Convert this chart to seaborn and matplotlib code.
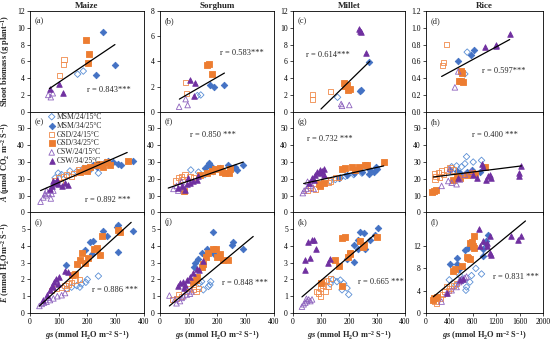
import matplotlib
matplotlib.use("Agg")
import matplotlib.pyplot as plt
import seaborn as sns
import numpy as np

sns.set_theme(style="white")
plt.rcParams['font.family'] = ['Liberation Serif', 'DejaVu Serif']
plt.rcParams['mathtext.fontset'] = 'custom'
plt.rcParams['mathtext.rm'] = 'Liberation Serif:bold'
plt.rcParams['mathtext.it'] = 'Liberation Serif:italic:bold'
plt.rcParams['mathtext.bf'] = 'Liberation Serif:bold'

# ---------------- data ----------------
crops = ['Maize', 'Sorghum', 'Millet', 'Rice']
treat_labels = {'MSM24': 'MSM/24/15°C', 'MSM34': 'MSM/34/25°C',
                'GSD24': 'GSD/24/15°C', 'GSD34': 'GSD/34/25°C',
                'CSW24': 'CSW/24/15°C', 'CSW34': 'CSW/34/25°C'}
r_texts = ['r = 0.843***', 'r = 0.583***', 'r = 0.614***', 'r = 0.597***',
           'r = 0.892 ***', 'r = 0.850 ***', 'r = 0.732 ***', 'r = 0.400 ***',
           'r = 0.886 ***', 'r = 0.848 ***', 'r = 0.665 ***', 'r = 0.831 ***']
panel_letters = ['(a)', '(b)', '(c)', '(d)', '(e)', '(f)', '(g)', '(h)', '(i)', '(j)', '(k)', '(l)']

# (a) maize shoot biomass
a_x = {'MSM24': [167, 187], 'MSM34': [255, 298, 230], 'GSD24': [119, 117, 103],
       'GSD34': [195, 207, 205], 'CSW24': [64, 73, 80], 'CSW34': [70, 102, 115]}
a_y = {'MSM24': [4.47, 4.84], 'MSM34': [9.47, 5.56, 4.43], 'GSD24': [6.25, 5.64, 4.35],
       'GSD34': [8.58, 6.89, 5.84], 'CSW24': [2.0, 1.73, 2.2], 'CSW34': [2.74, 3.26, 2.2]}
a_fit = ([68, 298], [2.75, 8.0])

# (b) sorghum shoot biomass
b_x = {'MSM24': [131, 143], 'MSM34': [175, 189, 225], 'GSD24': [90, 94],
       'GSD34': [166, 172, 184], 'CSW24': [67, 97, 90], 'CSW34': [105, 123, 120]}
b_y = {'MSM24': [1.28, 1.33], 'MSM34': [2.13, 2.0, 2.13], 'GSD24': [2.35, 1.47],
       'GSD34': [3.73, 3.81, 3.0], 'CSW24': [0.4, 0.53, 1.0], 'CSW34': [2.48, 2.29, 1.23]}
b_fit = ([68, 226], [1.0, 3.07])

# (c) millet shoot biomass
c_x = {'MSM24': [159], 'MSM34': [270, 243, 238], 'GSD24': [133, 70, 70],
       'GSD34': [183, 193, 187, 202, 198], 'CSW24': [172, 175, 201], 'CSW34': [234, 243, 238, 262]}
c_y = {'MSM24': [1.72], 'MSM34': [5.9, 2.6, 2.45], 'GSD24': [2.4, 2.04, 1.44],
       'GSD34': [3.4, 3.24, 3.1, 2.7, 2.6], 'CSW24': [0.92, 0.7, 0.8], 'CSW34': [9.8, 9.5, 9.6, 7.0]}
c_fit = ([100, 274], [0.32, 6.0])

# (d) rice shoot biomass
d_x = {'MSM24': [704, 664], 'MSM34': [818, 761, 540], 'GSD24': [352, 295, 278],
       'GSD34': [596, 619, 562, 636, 596], 'CSW24': [551, 494], 'CSW34': [1443, 1192, 1005, 1192]}
d_y = {'MSM24': [0.71, 0.45], 'MSM34': [0.74, 0.68, 0.60], 'GSD24': [0.80, 0.59, 0.55],
       'GSD34': [0.48, 0.46, 0.37, 0.35, 0.36], 'CSW24': [0.48, 0.29], 'CSW34': [0.92, 0.80, 0.77, 0.78]}
d_fit = ([267, 1431], [0.42, 0.86])

# (e) maize A
e_x = {'MSM24': [99, 111, 140, 164, 211, 240, 129, 88, 187],
       'MSM34': [205, 234, 263, 275, 310, 318, 360, 292, 222],
       'GSD24': [88, 99, 117, 129, 152, 170, 187, 146, 105],
       'GSD34': [175, 193, 211, 234, 246, 269, 281, 345, 257, 199],
       'CSW24': [37, 47, 56, 64, 73, 76, 53, 82, 58],
       'CSW34': [76, 88, 94, 99, 111, 134, 123, 82, 70]}
e_y = {'MSM24': [23.4, 22.5, 24.7, 24.3, 25.3, 23.4, 21.5, 20.6, 26.2],
       'MSM34': [25.3, 27.2, 30, 30.9, 29, 28.1, 30.6, 30, 28.1],
       'GSD24': [18.7, 20.6, 21.5, 22.5, 23.4, 25.3, 25.3, 21.5, 17.7],
       'GSD34': [24.3, 26.2, 27.2, 28.1, 29.1, 30, 28.5, 30.4, 27.2, 24.7],
       'CSW24': [6.4, 8.9, 10.2, 11.5, 8.3, 11, 11, 13, 13],
       'CSW34': [15.8, 17.7, 19.6, 16.8, 15.8, 16.4, 17.7, 18.7, 14]}
e_fit = ([37, 341], [13.0, 35.7])

# (f) sorghum A
f_x = {'MSM24': [108, 135, 158, 187, 164],
       'MSM34': [158, 170, 173, 181, 211, 257, 269, 263, 292, 240],
       'GSD24': [53, 64, 76, 88, 105, 117, 80],
       'GSD34': [84, 140, 164, 181, 193, 211, 216, 228, 243, 246],
       'CSW24': [47, 58, 70, 82, 64, 76],
       'CSW34': [64, 76, 94, 105, 117, 129, 135, 88, 99]}
f_y = {'MSM24': [25.3, 24, 22.5, 24.3, 25.8],
       'MSM34': [26.6, 28.1, 29.6, 27.2, 26.2, 26.2, 25.3, 27.2, 28.1, 28.1],
       'GSD24': [18.7, 20.6, 21.5, 22.5, 21.5, 20.6, 19.6],
       'GSD34': [13, 22.5, 23.4, 24.7, 25.8, 26.2, 24.3, 23.4, 23.4, 25.8],
       'CSW24': [14, 15.8, 16.8, 14.9, 13, 18.3],
       'CSW34': [14.5, 15.8, 16.8, 17.7, 18.7, 19.6, 21.5, 13.4, 20.6]}
f_fit = ([29, 292], [14.5, 30.0])

# (g) millet A
g_x = {'MSM24': [133, 151, 169, 187, 217, 246],
       'MSM34': [163, 193, 217, 246, 270, 288, 300, 298, 276],
       'GSD24': [52, 62, 80, 98, 127, 133, 151, 163, 115],
       'GSD34': [92, 98, 110, 175, 187, 211, 235, 258, 264, 324, 223],
       'CSW24': [35, 40, 48, 56, 64, 74, 52],
       'CSW34': [56, 68, 80, 86, 95, 104, 112, 98, 110, 74]}
g_y = {'MSM24': [18.7, 19.6, 20.6, 21.5, 22.5, 23.4],
       'MSM34': [20.6, 22.5, 23.4, 24.3, 22.8, 24, 25.8, 27.2, 25.3],
       'GSD24': [13, 14.9, 14, 15.8, 17.7, 18.7, 20.6, 20.6, 19.6],
       'GSD34': [16.8, 15.8, 17.7, 25.8, 26.2, 27.2, 27.2, 28.5, 28.5, 30, 25.3],
       'CSW24': [11.5, 13, 14, 15.8, 17.2, 14, 18.3],
       'CSW34': [17.7, 20.6, 22.5, 24.3, 25.3, 24.7, 25.8, 23.4, 22.5, 19.6]}
g_fit = ([38, 324], [17.2, 27.7])

# (h) rice A
h_x = {'MSM24': [438, 523, 665, 693, 807, 949, 608],
       'MSM34': [409, 523, 580, 693, 778, 807, 920, 568],
       'GSD24': [142, 170, 210, 267, 295, 352, 409, 466, 153, 227],
       'GSD34': [108, 136, 170, 466, 523, 693, 778, 835, 1006, 580],
       'CSW24': [267, 381, 438, 523, 580, 665, 778, 409],
       'CSW34': [551, 807, 864, 949, 966, 1023, 1091, 1119, 1063, 1591, 1591, 1631]}
h_y = {'MSM24': [27.2, 27.7, 29, 33.2, 30, 31, 27.2],
       'MSM34': [25.3, 24.7, 23.4, 24.3, 25.3, 23.4, 24.3, 21.5],
       'GSD24': [23.4, 21.5, 24, 24.7, 22.5, 25.3, 26.6, 25.3, 19.6, 20.6],
       'GSD34': [12, 13, 13.6, 19.6, 21.5, 22.5, 23.4, 22.8, 27.2, 20.6],
       'CSW24': [15.8, 18.7, 17.7, 16.8, 19.6, 22.5, 24.3, 25.8],
       'CSW34': [20.6, 22.5, 20.6, 29, 27.2, 19.6, 22.5, 20.6, 21.5, 23.4, 21.5, 27.7]}
h_fit = ([125, 1631], [21.1, 27.7])

# (i) maize E
i_x = {'MSM24': [129, 146, 164, 181, 196, 201, 240, 175],
       'MSM34': [126, 193, 211, 222, 216, 257, 269, 304, 310, 310, 360],
       'GSD24': [76, 94, 111, 123, 135, 146, 158, 175, 129],
       'GSD34': [146, 158, 175, 181, 193, 205, 225, 234, 246, 251, 310, 316, 164],
       'CSW24': [33, 41, 49, 58, 70, 82, 96, 111, 123, 64],
       'CSW34': [44, 58, 70, 76, 84, 91, 103, 123, 135, 99, 82]}
i_y = {'MSM24': [1.44, 1.54, 1.63, 1.73, 1.83, 2.0, 2.2, 1.54],
       'MSM34': [2.85, 3.75, 4.23, 4.27, 3.5, 4.9, 4.6, 5.1, 5.23, 3.65, 4.9],
       'GSD24': [1.35, 1.44, 1.54, 1.63, 1.73, 1.83, 1.92, 2.0, 1.44],
       'GSD34': [2.25, 2.3, 3.17, 3.6, 2.98, 3.3, 3.8, 3.88, 3.46, 4.6, 4.96, 4.85, 2.9],
       'CSW24': [0.42, 0.54, 0.62, 0.67, 0.77, 0.87, 1.0, 1.06, 1.19, 0.92],
       'CSW34': [0.77, 1.06, 1.35, 1.63, 1.83, 2.0, 2.15, 2.5, 2.46, 1.73, 1.54]}
i_fit = ([33, 355], [0.42, 5.4])

# (j) sorghum E
j_x = {'MSM24': [138, 146, 175, 178, 170, 152],
       'MSM34': [119, 135, 146, 164, 181, 187, 189, 251, 255, 290, 123],
       'GSD24': [44, 58, 76, 94, 103, 117, 126, 135, 64],
       'GSD34': [117, 126, 131, 146, 152, 161, 170, 185, 196, 201, 211, 222, 240],
       'CSW24': [33, 58, 70, 76, 82, 94, 105, 111, 53],
       'CSW34': [64, 70, 80, 88, 94, 105, 117, 131, 138, 150, 84]}
j_y = {'MSM24': [1.77, 1.87, 1.67, 1.87, 1.58, 1.38],
       'MSM34': [2.73, 3.21, 3.6, 3.79, 3.69, 4.85, 3.54, 4.04, 4.23, 3.79, 2.96],
       'GSD24': [0.81, 0.85, 1.0, 1.29, 1.48, 1.38, 1.29, 1.48, 1.1],
       'GSD34': [1.87, 1.96, 2.12, 2.77, 2.92, 3.35, 3.6, 3.79, 3.79, 3.31, 3.5, 3.15, 3.15],
       'CSW24': [1.04, 0.58, 0.71, 0.9, 1.0, 1.1, 1.15, 1.29, 0.81],
       'CSW34': [1.58, 1.77, 1.87, 1.67, 1.96, 2.15, 2.38, 2.63, 2.54, 3.12, 1.48]}
j_fit = ([33, 327], [0.42, 4.56])

# (k) millet E
k_x = {'MSM24': [133, 143, 157, 169, 181, 193, 199, 175],
       'MSM34': [193, 217, 231, 240, 252, 258, 276, 294, 302, 231, 217],
       'GSD24': [86, 92, 98, 104, 110, 119, 127, 133, 98, 115],
       'GSD34': [100, 151, 175, 187, 163, 175, 202, 205, 240, 255, 250, 300, 195],
       'CSW24': [32, 38, 44, 50, 56, 62, 68, 48],
       'CSW34': [52, 68, 76, 83, 42, 62, 44, 124, 133]}
k_y = {'MSM24': [1.73, 2.0, 1.87, 1.96, 1.77, 1.48, 1.1, 1.38],
       'MSM34': [3.21, 4.08, 3.79, 4.85, 4.75, 3.79, 4.37, 4.65, 5.08, 4.37, 3.02],
       'GSD24': [1.29, 1.19, 1.48, 1.67, 1.87, 1.96, 1.58, 2.06, 1.0, 1.29],
       'GSD34': [1.81, 3.15, 4.46, 4.5, 2.83, 1.58, 3.5, 3.6, 4.27, 4.08, 3.92, 4.5, 3.35],
       'CSW24': [0.38, 0.52, 0.62, 0.71, 0.81, 0.71, 0.81, 0.85],
       'CSW34': [4.23, 4.37, 4.37, 3.79, 3.15, 3.27, 2.58, 2.96, 3.21]}
k_fit = ([32, 290], [0.96, 4.65])

# (l) rice E
l_x = {'MSM24': [398, 511, 580, 636, 682, 693, 778, 852, 949, 750],
       'MSM34': [409, 523, 534, 568, 665, 722, 977, 977, 1006, 1023, 1063],
       'GSD24': [153, 182, 239, 284, 324, 381, 409, 466, 523, 352],
       'GSD34': [125, 142, 182, 466, 494, 608, 693, 722, 750, 750, 778, 807, 818, 818],
       'CSW24': [267, 352, 438, 523, 568, 608, 665, 693, 580],
       'CSW34': [364, 580, 636, 909, 1045, 1045, 1091, 1102, 1119, 920, 1460, 1574, 1631, 977]}
l_y = {'MSM24': [5.93, 4.94, 6.69, 5.82, 4.07, 4.65, 6.69, 7.97, 6.98, 5.53],
       'MSM34': [8.84, 9.89, 8.73, 7.85, 11.3, 11.6, 11.5, 10.2, 12.5, 12.8, 14.0],
       'GSD24': [2.04, 1.75, 2.62, 3.37, 3.78, 4.07, 4.36, 4.94, 5.24, 4.77],
       'GSD34': [2.33, 2.62, 2.79, 7.56, 7.85, 8.44, 10.0, 9.89, 9.6, 12.5, 12.7, 11.9, 11.6, 13.8],
       'CSW24': [2.04, 3.49, 4.07, 4.65, 5.53, 6.11, 6.28, 6.52, 5.94],
       'CSW34': [3.49, 5.82, 6.11, 15.0, 12.5, 11.9, 13.7, 10.8, 10.4, 11.9, 13.7, 13.1, 13.7, 12.8]}
l_fit = ([125, 1700], [2.9, 16.45])

panels_x = [a_x, b_x, c_x, d_x, e_x, f_x, g_x, h_x, i_x, j_x, k_x, l_x]
panels_y = [a_y, b_y, c_y, d_y, e_y, f_y, g_y, h_y, i_y, j_y, k_y, l_y]
panels_fit = [a_fit, b_fit, c_fit, d_fit, e_fit, f_fit, g_fit, h_fit, i_fit, j_fit, k_fit, l_fit]

# ---------------- styles / layout ----------------
BLUE, ORANGE, PURPLE = '#4472C4', '#ED7D31', '#7030A0'
styles = {
    'MSM24': dict(marker='D', fc='none', ec='#5B8FD5', s=11),
    'MSM34': dict(marker='D', fc=BLUE, ec=BLUE, s=11),
    'GSD24': dict(marker='s', fc='none', ec='#F08A4B', s=14),
    'GSD34': dict(marker='s', fc=ORANGE, ec=ORANGE, s=14),
    'CSW24': dict(marker='^', fc='none', ec='#8E63BE', s=16),
    'CSW34': dict(marker='^', fc=PURPLE, ec=PURPLE, s=16),
}
W, H = 550, 341
col_left = [30, 160, 293, 426]
col_w = [114, 114, 112, 117]
row_top = [11, 111.7, 212.3]
row_h = 100.7
r_pos = [(0.50, 0.22), (0.53, 0.58), (0.12, 0.56), (0.48, 0.40),
         (0.48, 0.12), (0.26, 0.77), (0.125, 0.73), (0.39, 0.77),
         (0.54, 0.23), (0.54, 0.30), (0.58, 0.31), (0.575, 0.36)]
ylims = [[(0, 12, 2), (0, 8, 2), (0, 12, 2), (0, 1.2, 0.2)],
         [(0, 60, 10)] * 4,
         [(0, 6, 1), (0, 6, 1), (0, 6, 1), (0, 18, 4)]]
ylabels = ['Shoot biomass (g plant$^{-1}$)',
           r'$\mathit{A}$ (μmol CO$_2$ m$^{-2}$ S$^{-1}$)',
           r'$\mathit{E}$ (mmol H$_2$Om$^{-2}$ S$^{-1}$)']
xlabel = r'$\mathit{gs}$ (mmol H$_2$O m$^{-2}$ S$^{-1}$)'

fig = plt.figure(figsize=(W / 100, H / 100), dpi=100)
fig.patch.set_facecolor('white')

for idx in range(12):
    r, c = divmod(idx, 4)
    ax = fig.add_axes([col_left[c] / W, 1 - (row_top[r] + row_h) / H, col_w[c] / W, row_h / H])
    ax.set_facecolor('white')
    xs, ys = panels_x[idx], panels_y[idx]
    for key in ['MSM24', 'MSM34', 'GSD24', 'GSD34', 'CSW24', 'CSW34']:
        st = styles[key]
        sns.scatterplot(x=xs[key], y=ys[key], ax=ax, marker=st['marker'], s=st['s'],
                        facecolor=st['fc'], edgecolor=st['ec'], linewidth=0.6,
                        label=treat_labels[key], legend=False, zorder=3)
    fx, fy = panels_fit[idx]
    sns.lineplot(x=fx, y=fy, ax=ax, color='black', linewidth=0.9, zorder=4, legend=False)

    if c < 3:
        ax.set_xlim(0, 400)
        ax.set_xticks(np.arange(0, 401, 100))
    else:
        ax.set_xlim(0, 2000)
        ax.set_xticks(np.arange(0, 2001, 400))
    y0, y1, ys_ = ylims[r][c]
    ax.set_ylim(y0, y1)
    if r == 0:
        ticks = np.arange(y0, y1 + ys_ / 2, ys_)
    else:
        ticks = np.arange(y0, y1 - ys_ / 2, ys_)
    ax.set_yticks(ticks)
    if r == 0 and c == 3:
        ax.set_yticklabels([f'{t:.1f}' for t in ticks])
    else:
        ax.set_yticklabels([f'{t:g}' for t in ticks])
    ax.tick_params(axis='both', which='major', direction='out', length=2.2, width=0.5,
                   labelsize=5.5, pad=1.5, bottom=True, left=True, colors='black')
    if r < 2:
        ax.tick_params(labelbottom=False)
    for sp in ax.spines.values():
        sp.set_color('black')
        sp.set_linewidth(0.6)
    ax.set_xlabel('')
    ax.set_ylabel('')
    if r == 2:
        ax.set_xlabel(xlabel, fontsize=6, fontweight='bold', labelpad=2)
    if c == 0:
        ax.set_ylabel(ylabels[r], fontsize=6, fontweight='bold')
        ax.yaxis.set_label_coords(-0.155, 0.5)
    if r == 0:
        ax.set_title(crops[c], fontsize=6.5, fontweight='bold', pad=2)
    ax.text(0.04, 0.9, panel_letters[idx], transform=ax.transAxes, fontsize=6,
            va='center', ha='left')
    rx, ry = r_pos[idx]
    ax.text(rx, ry, r_texts[idx], transform=ax.transAxes, fontsize=6, va='center', ha='left')
    if idx == 4:
        ax.legend(loc='upper left', bbox_to_anchor=(0.13, 1.02), frameon=False, fontsize=5.5,
                  handletextpad=0.1, labelspacing=0.12, borderaxespad=0.2, handlelength=1.0,
                  borderpad=0.2)

fig.savefig('out.png', dpi=100, facecolor='white')
